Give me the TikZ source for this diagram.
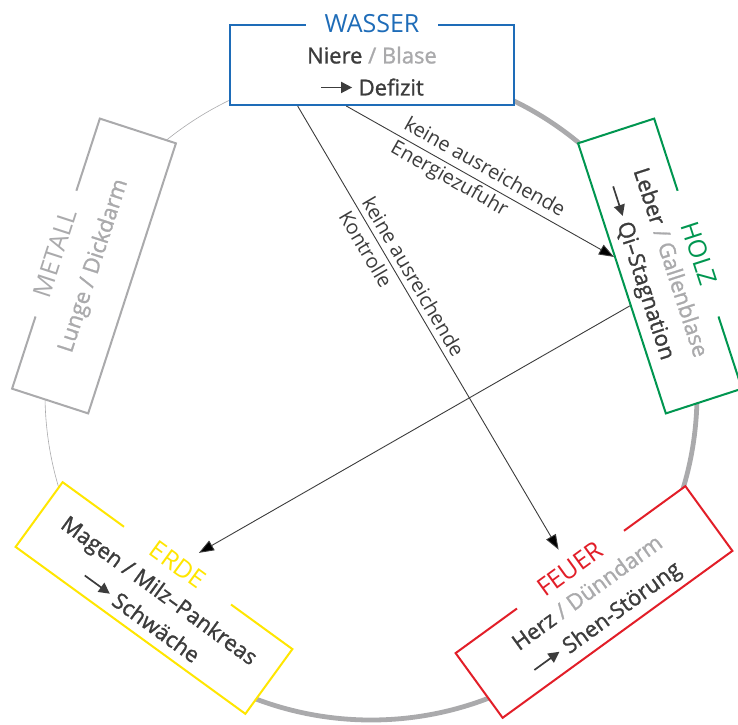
\documentclass[tikz,border=0pt]{standalone}
\usepackage{fontspec}
\setmainfont{Open Sans}
\IfFontExistsTF{Open Sans SemiBold}{\newfontfamily\medf{Open Sans SemiBold}}{\newfontfamily\medf{Open Sans}[FakeBold=1.2]}
\usetikzlibrary{arrows.meta,calc}
\definecolor{wblau}{RGB}{30,108,184}
\definecolor{hgruen}{RGB}{0,150,80}
\definecolor{frot}{RGB}{226,30,40}
\definecolor{egelb}{RGB}{255,230,0}
\definecolor{mgrau}{RGB}{170,170,172}
\definecolor{txt}{RGB}{60,60,60}
\newcommand{\folge}{\tikz[baseline=-0.36em]\draw[txt,line width=1.7pt,-{Triangle[length=11pt,width=11pt]}] (0,0)--(31pt,0);}

\begin{document}
\begin{tikzpicture}[x=1pt,y=1pt,
  feld/.style={draw=#1,line width=2pt,fill=white,minimum width=284pt,minimum height=80pt,inner sep=0pt},
  titel/.style={fill=white,text=#1,minimum width=132pt,inner sep=0pt,font=\fontsize{25}{30}\selectfont},
  inhalt/.style={text=txt,align=center,inner sep=0pt,font=\medf\fontsize{22}{32}\selectfont},
  hinweis/.style={text=txt,align=left,sloped,inner sep=0pt,font=\fontsize{20}{27}\selectfont},
  wirkung/.style={draw=txt,line width=0.9pt,-{Triangle[length=15pt,width=11pt]}}]
\useasboundingbox (0,0) rectangle (738,724);
\coordinate (mitte) at (371,330);
\draw[mgrau,line width=4.8pt] (mitte) ++(90:326) arc[start angle=90,end angle=-137,radius=326];
\draw[mgrau,line width=0.6pt] (mitte) ++(90:326) arc[start angle=90,end angle=223,radius=326];

\node[feld=wblau] (wasser) at (372,659) {};
\node[feld=hgruen,rotate=-72] (holz) at (660,458) {};
\node[feld=frot,rotate=36] (feuer) at (594,122) {};
\node[feld=egelb,rotate=-36] (erde) at (154,126) {};
\node[feld=mgrau,rotate=72] (metall) at (94,458) {};

\node[titel=wblau] (wasserT) at (wasser.north) {WASSER};
\node[titel=hgruen,rotate=-72] (holzT) at (holz.north) {HOLZ};
\node[titel=frot,rotate=36] (feuerT) at (feuer.north) {FEUER};
\node[titel=egelb,rotate=-36] (erdeT) at (erde.north) {ERDE};
\node[titel=mgrau,rotate=72] (metallT) at (metall.north) {METALL};

\node[inhalt] (wasserI) at ($(wasser.center)!0.15!(wasser.south)$) {Niere \textcolor{mgrau}{/ Blase}\\\folge\ Defizit};
\node[inhalt,rotate=-72] (holzI) at ($(holz.center)!0.15!(holz.south)$) {Leber \textcolor{mgrau}{/ Gallenblase}\\\folge\ Qi–Stagnation};
\node[inhalt,rotate=36] (feuerI) at ($(feuer.center)!0.15!(feuer.south)$) {Herz \textcolor{mgrau}{/ Dünndarm}\\\folge\ Shen-Störung};
\node[inhalt,rotate=-36] (erdeI) at ($(erde.center)!0.15!(erde.south)$) {Magen / Milz–Pankreas\\\folge\ Schwäche};
\node[inhalt,text=mgrau,rotate=72] (metallI) at (metall.center) {Lunge / Dickdarm};

\draw[wirkung] ($(wasser.south west)!0.41!(wasser.south east)$) -- ($(holz.south west)!0.42!(holz.south east)$)
  node[hinweis,pos=0.49] {keine ausreichende\\Energiezufuhr};
\draw[wirkung,shorten >=13pt] ($(wasser.south west)!0.24!(wasser.south east)$) -- (feuerT)
  node[hinweis,pos=0.39] {keine ausreichende\\Kontrolle};
\draw[wirkung,shorten >=14pt] ($(holz.south west)!0.6!(holz.south east)$) -- (erdeT);
\end{tikzpicture}
\end{document}
